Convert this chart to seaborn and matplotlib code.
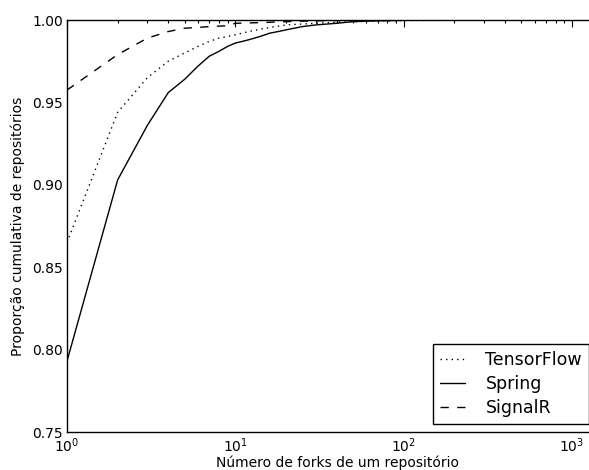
import matplotlib
matplotlib.use("Agg")
import matplotlib.pyplot as plt
import numpy as np
import pandas as pd
import seaborn as sns

# cumulative share of repositories by number of forks
tf_forks = [1, 2, 3, 4, 5, 6, 7, 8, 9, 10, 12, 15, 20, 30, 50, 100, 400]
tf_prop = [0.865, 0.944, 0.965, 0.975, 0.980, 0.984, 0.987, 0.989, 0.990,
           0.991, 0.993, 0.995, 0.997, 0.998, 0.999, 0.9997, 1.0]

spring_forks = [1, 2, 3, 4, 5, 6, 7, 8, 9, 10, 11, 12, 13, 14, 15, 16, 18,
                20, 25, 30, 40, 50, 70, 100, 400]
spring_prop = [0.793, 0.903, 0.936, 0.956, 0.964, 0.972, 0.978, 0.981, 0.984,
               0.986, 0.987, 0.988, 0.989, 0.990, 0.991, 0.992, 0.993, 0.994,
               0.996, 0.997, 0.998, 0.999, 0.9995, 0.9998, 1.0]

signalr_forks = [1, 2, 3, 4, 5, 6, 7, 8, 9, 10, 15, 20, 30, 50, 400]
signalr_prop = [0.9575, 0.979, 0.989, 0.993, 0.995, 0.9955, 0.996, 0.9963,
                0.9965, 0.998, 0.9985, 0.999, 0.9995, 0.9998, 1.0]

projects = ["TensorFlow", "Spring", "SignalR"]

df = pd.concat([
    pd.DataFrame({"forks": tf_forks, "prop": tf_prop, "projeto": "TensorFlow"}),
    pd.DataFrame({"forks": spring_forks, "prop": spring_prop, "projeto": "Spring"}),
    pd.DataFrame({"forks": signalr_forks, "prop": signalr_prop, "projeto": "SignalR"}),
])

sns.set_style("white")
plt.rcParams["font.family"] = ["DejaVu Sans"]
plt.rcParams["text.color"] = "black"
plt.rcParams["axes.labelcolor"] = "black"
plt.rcParams["xtick.direction"] = "in"
plt.rcParams["ytick.direction"] = "in"

fig = plt.figure(figsize=(5.89, 4.70), dpi=100)
# axes run a bit past the right edge, as in the cropped original
ax = fig.add_axes([67 / 589, 38 / 470, 540 / 589, 412 / 470])

sns.lineplot(data=df, x="forks", y="prop", hue="projeto", style="projeto",
             hue_order=projects, style_order=projects,
             palette=["black"] * 3,
             dashes={"TensorFlow": (1, 3), "Spring": "", "SignalR": (6, 6)},
             linewidth=1.0, ax=ax, estimator=None, sort=False)

ax.set_xscale("log")
ax.set_xlim(1, 10 ** (540 / 168.3))
ax.set_ylim(0.75, 1.0)
ax.set_yticks([0.75, 0.80, 0.85, 0.90, 0.95, 1.00])
ax.set_yticklabels(["0.75", "0.80", "0.85", "0.90", "0.95", "1.00"])

for s in ax.spines.values():
    s.set_color("black")
    s.set_linewidth(1.0)
ax.tick_params(which="both", top=True, right=True, colors="black",
               labelsize=10, width=0.8)
ax.tick_params(which="major", length=5, pad=3)
ax.tick_params(which="minor", length=2.5)

ax.set_xlabel("Número de forks de um repositório", fontsize=10, labelpad=0.5)
ax.set_ylabel("Proporção cumulativa de repositórios", fontsize=10, labelpad=5)

handles, labels = ax.get_legend_handles_labels()
leg = ax.legend(handles, labels, loc="lower right",
                bbox_to_anchor=(589 / 589, 46 / 470),
                bbox_transform=fig.transFigure, borderaxespad=0,
                fontsize=12.5, frameon=True, fancybox=False,
                edgecolor="black", framealpha=1, handlelength=1.4,
                handletextpad=1.2, borderpad=0.4, labelspacing=0.35,
                labelcolor="black")
leg.get_frame().set_linewidth(1.0)

fig.savefig("out.png", dpi=100, facecolor="white")
